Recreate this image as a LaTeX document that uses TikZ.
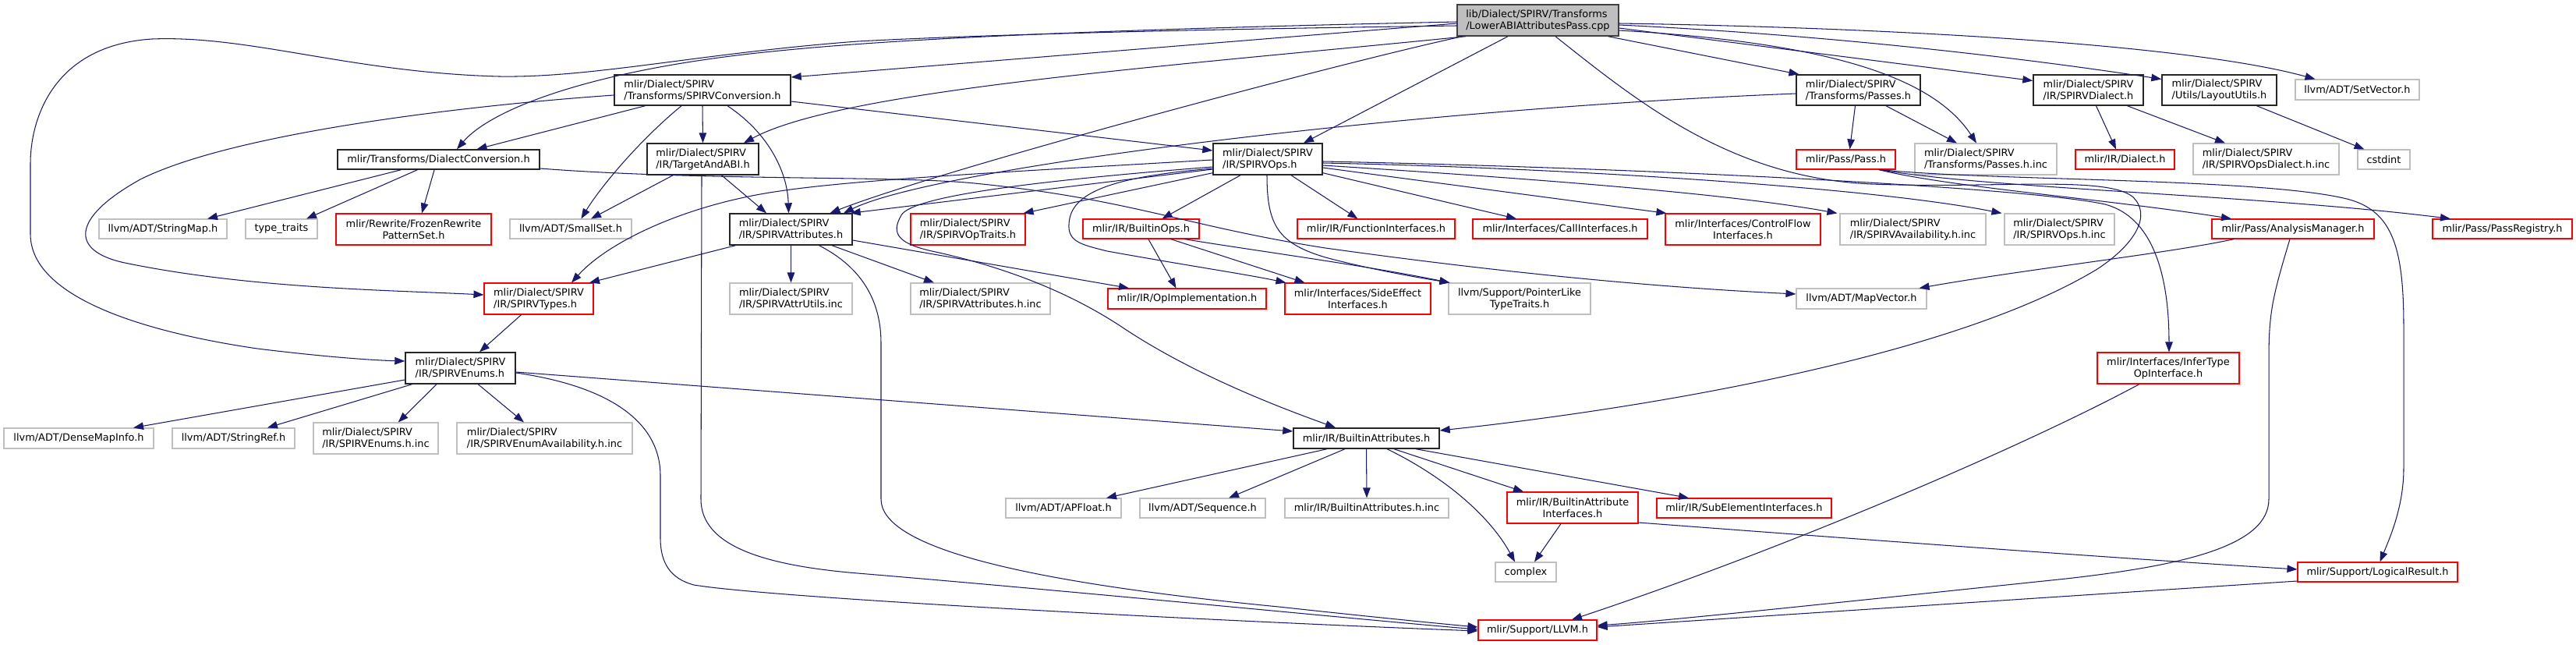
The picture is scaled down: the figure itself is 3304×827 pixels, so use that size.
\documentclass[tikz,border=0pt]{standalone}
\usepackage{fontspec}
\setmainfont{DejaVu Sans}
\usetikzlibrary{arrows.meta}
\definecolor{edgec}{HTML}{191970}
\definecolor{greyb}{HTML}{BFBFBF}
\definecolor{redb}{HTML}{FF0000}
\tikzset{
 nb/.style={rectangle,inner sep=0pt,font=\fontsize{12.9}{15}\selectfont,text=black},
 blk/.style={nb,draw=black!85,line width=1.4pt},
 rootn/.style={nb,draw=black!75,fill=greyb,line width=1.4pt},
 redn/.style={nb,draw=redb,line width=1.1pt},
 gryn/.style={nb,draw=greyb,line width=1.1pt},
 e/.style={draw=edgec,line width=1.05pt,-{Triangle[length=13pt,width=9.5pt]}},
}
\newcommand{\nd}[7]{\node[#1,minimum width={(#5)-(#3)},minimum height={(#6)-(#4)}] (#2) at ({((#3)+(#5))/2},{((#4)+(#6))/2}) {#7};}
\begin{document}
\begin{tikzpicture}[x=1pt,y=-1pt]
\fill[white] (0,0) rectangle (3304,827);
\useasboundingbox (0,0) rectangle (3304,827);
% nodes
\nd{rootn,align=left}{root}{1869}{6}{2076}{46}{lib/Dialect/SPIRV/Transforms\\/LowerABIAttributesPass.cpp}
\nd{blk,align=left}{conv}{788}{96}{1014}{135}{mlir/Dialect/SPIRV\\/Transforms/SPIRVConversion.h}
\nd{blk,align=left}{passes}{2304}{96}{2463}{135}{mlir/Dialect/SPIRV\\/Transforms/Passes.h}
\nd{blk,align=left}{dial}{2608}{96}{2749}{135}{mlir/Dialect/SPIRV\\/IR/SPIRVDialect.h}
\nd{blk,align=left}{layout}{2773}{96}{2920}{135}{mlir/Dialect/SPIRV\\/Utils/LayoutUtils.h}
\nd{gryn}{setvec}{2944}{102}{3103}{128}{llvm/ADT/SetVector.h}
\nd{blk}{dc}{433}{192}{692}{217}{mlir/Transforms/DialectConversion.h}
\nd{blk,align=left}{tabi}{830}{184}{973}{224}{mlir/Dialect/SPIRV\\/IR/TargetAndABI.h}
\nd{blk,align=left}{ops}{1556}{184}{1696}{224}{mlir/Dialect/SPIRV\\/IR/SPIRVOps.h}
\nd{redn}{pass}{2304}{192}{2431}{217}{mlir/Pass/Pass.h}
\nd{gryn,align=left}{passinc}{2456}{184}{2638}{224}{mlir/Dialect/SPIRV\\/Transforms/Passes.h.inc}
\nd{redn}{irdial}{2662}{192}{2789}{217}{mlir/IR/Dialect.h}
\nd{gryn,align=left}{opsdialinc}{2813}{184}{3000}{224}{mlir/Dialect/SPIRV\\/IR/SPIRVOpsDialect.h.inc}
\nd{gryn}{cstdint}{3024}{192}{3091}{217}{cstdint}
\nd{gryn}{strmap}{127}{281}{291}{306}{llvm/ADT/StringMap.h}
\nd{gryn}{typetr}{315}{281}{407}{306}{type\_traits}
\nd{redn,align=center}{frozen}{431}{274}{630}{314}{mlir/Rewrite/FrozenRewrite\\PatternSet.h}
\nd{gryn}{smallset}{654}{281}{810}{306}{llvm/ADT/SmallSet.h}
\nd{blk,align=left}{attrs}{936}{274}{1093}{314}{mlir/Dialect/SPIRV\\/IR/SPIRVAttributes.h}
\nd{redn,align=left}{optraits}{1168}{274}{1315}{314}{mlir/Dialect/SPIRV\\/IR/SPIRVOpTraits.h}
\nd{redn}{bops}{1389}{281}{1538}{306}{mlir/IR/BuiltinOps.h}
\nd{redn}{funcif}{1664}{281}{1866}{306}{mlir/IR/FunctionInterfaces.h}
\nd{redn}{callif}{1889}{281}{2113}{306}{mlir/Interfaces/CallInterfaces.h}
\nd{redn,align=center}{cfif}{2136}{274}{2335}{314}{mlir/Interfaces/ControlFlow\\Interfaces.h}
\nd{gryn,align=left}{avail}{2360}{274}{2547}{314}{mlir/Dialect/SPIRV\\/IR/SPIRVAvailability.h.inc}
\nd{gryn,align=left}{opsinc}{2571}{274}{2712}{314}{mlir/Dialect/SPIRV\\/IR/SPIRVOps.h.inc}
\nd{redn}{am}{2837}{281}{3045}{306}{mlir/Pass/AnalysisManager.h}
\nd{redn}{preg}{3120}{281}{3299}{306}{mlir/Pass/PassRegistry.h}
\nd{redn,align=left}{types}{621}{363}{761}{403}{mlir/Dialect/SPIRV\\/IR/SPIRVTypes.h}
\nd{gryn,align=left}{attrutils}{936}{363}{1093}{403}{mlir/Dialect/SPIRV\\/IR/SPIRVAttrUtils.inc}
\nd{gryn,align=left}{attrsinc}{1168}{363}{1347}{403}{mlir/Dialect/SPIRV\\/IR/SPIRVAttributes.h.inc}
\nd{redn}{opimpl}{1421}{370}{1624}{396}{mlir/IR/OpImplementation.h}
\nd{redn,align=center}{sideeff}{1648}{363}{1835}{403}{mlir/Interfaces/SideEffect\\Interfaces.h}
\nd{gryn,align=center}{ptrlike}{1858}{363}{2040}{403}{llvm/Support/PointerLike\\TypeTraits.h}
\nd{gryn}{mapvec}{2304}{370}{2471}{396}{llvm/ADT/MapVector.h}
\nd{blk,align=left}{enums}{520}{452}{661}{492}{mlir/Dialect/SPIRV\\/IR/SPIRVEnums.h}
\nd{redn,align=center}{infer}{2690}{452}{2872}{492}{mlir/Interfaces/InferType\\OpInterface.h}
\nd{gryn}{dmi}{5}{549}{197}{575}{llvm/ADT/DenseMapInfo.h}
\nd{gryn}{strref}{221}{549}{378}{575}{llvm/ADT/StringRef.h}
\nd{gryn,align=left}{enumsinc}{402}{542}{562}{582}{mlir/Dialect/SPIRV\\/IR/SPIRVEnums.h.inc}
\nd{gryn,align=left}{enumavail}{586}{542}{811}{582}{mlir/Dialect/SPIRV\\/IR/SPIRVEnumAvailability.h.inc}
\nd{blk}{battrs}{1659}{549}{1846}{575}{mlir/IR/BuiltinAttributes.h}
\nd{gryn}{apfloat}{1290}{639}{1438}{664}{llvm/ADT/APFloat.h}
\nd{gryn}{seq}{1462}{639}{1623}{664}{llvm/ADT/Sequence.h}
\nd{gryn}{battrsinc}{1648}{639}{1858}{664}{mlir/IR/BuiltinAttributes.h.inc}
\nd{redn,align=center}{baif}{1933}{631}{2101}{671}{mlir/IR/BuiltinAttribute\\Interfaces.h}
\nd{redn}{subel}{2125}{639}{2349}{664}{mlir/IR/SubElementInterfaces.h}
\nd{gryn}{complex}{1918}{721}{1996}{746}{complex}
\nd{redn}{logres}{2947}{721}{3152}{746}{mlir/Support/LogicalResult.h}
\nd{redn}{llvm}{1896}{795}{2048}{821}{mlir/Support/LLVM.h}
% root edges
\draw[e] ([yshift=-4pt]root.west) -- ([yshift=16.5pt]conv.east);
\draw[e] ([yshift=-2pt]root.west) .. controls (1400,38) and (1150,50) .. (1000,65) .. controls (760,88) and (630,140) .. ([xshift=23.5pt]dc.north);
\draw[e] ([yshift=-7pt]root.west) .. controls (1500,38) and (1250,45) .. (1100,53) .. controls (900,68) and (760,100) .. (640,98) .. controls (450,93) and (320,45) .. (195,50) .. controls (70,58) and (39,150) .. (39,210) -- (39,300) .. controls (39,380) and (180,425) .. (330,447) .. controls (420,458) and (480,462) .. ([yshift=9pt]enums.west);
\draw[e] ([xshift=-92.5pt]root.south) .. controls (1500,85) and (1080,115) .. ([xshift=52.5pt]tabi.north);
\draw[e] ([xshift=-97pt]root.south) .. controls (1700,85) and (1200,220) .. ([xshift=50pt]attrs.north);
\draw[e] ([xshift=-38.5pt]root.south) -- ([xshift=46pt]ops.north);
\draw[e] ([xshift=22.5pt]root.south) .. controls (2100,130) and (2220,228) .. (2400,236) .. controls (2560,242) and (2700,225) .. (2735,252) .. controls (2760,275) and (2740,312) .. (2690,345) .. controls (2500,460) and (2100,525) .. ([yshift=10pt]battrs.east);
\draw[e] ([xshift=90pt]root.south) -- ([xshift=-76pt]passes.north);
\draw[e] ([yshift=-13pt]root.east) .. controls (2350,55) and (2480,100) .. ([xshift=-12pt]passinc.north);
\draw[e] ([yshift=-10pt]root.east) -- ([yshift=12pt]dial.west);
\draw[e] ([yshift=-6pt]root.east) .. controls (2350,45) and (2600,75) .. ([yshift=14pt]layout.west);
\draw[e] ([yshift=-4pt]root.east) .. controls (2400,35) and (2800,55) .. ([xshift=-54pt]setvec.north);
% conversion edges
\draw[e] ([xshift=-73.5pt]conv.south) -- ([xshift=49pt]dc.north);
\draw[e] ([xshift=-27pt]conv.south) .. controls (820,180) and (770,240) .. ([xshift=13.4pt]smallset.north);
\draw[e] (conv.south) -- (tabi.north);
\draw[e] ([xshift=32pt]conv.south) .. controls (985,170) and (1010,220) .. ([xshift=-3pt]attrs.north);
\draw[e] ([yshift=-14.5pt]conv.east) -- ([yshift=11pt]ops.west);
\draw[e] ([yshift=-6.5pt]conv.west) .. controls (600,135) and (300,170) .. (180,230) .. controls (90,280) and (90,322) .. (160,337) .. controls (320,370) and (500,372) .. ([yshift=5pt]types.west);
% dialect conversion
\draw[e] ([xshift=-48pt]dc.south) -- ([xshift=57pt]strmap.north);
\draw[e] ([xshift=-27pt]dc.south) -- ([xshift=32pt]typetr.north);
\draw[e] ([xshift=-5.4pt]dc.south) -- ([xshift=10.5pt]frozen.north);
\draw[e] ([yshift=-11.5pt]dc.east) .. controls (900,232) and (1150,225) .. (1250,235) .. controls (1450,255) and (1520,290) .. (1700,318) .. controls (2000,360) and (2200,372) .. ([yshift=6pt]mapvec.west);
% target and abi
\draw[e] ([xshift=-38.3pt]tabi.south) -- ([xshift=26pt]smallset.north);
\draw[e] ([xshift=24pt]tabi.south) -- ([xshift=-31.5pt]attrs.north);
\draw[e] ([xshift=-1.5pt]tabi.south) -- (899,640) .. controls (899,700) and (980,725) .. (1100,735) .. controls (1400,760) and (1750,795) .. ([yshift=1pt]llvm.west);
% attributes
\draw[e] ([xshift=-71pt]attrs.south) -- ([xshift=65pt]types.north);
\draw[e] (attrs.south) -- (attrutils.north);
\draw[e] ([xshift=52.5pt]attrs.south) -- ([xshift=-59.5pt]attrsinc.north);
\draw[e] ([yshift=-14pt]attrs.east) -- ([xshift=-74.5pt]opimpl.north);
\draw[e] ([xshift=36pt]attrs.south) .. controls (1100,340) and (1130,380) .. (1130,440) -- (1130,640) .. controls (1130,700) and (1300,745) .. (1640,778) .. controls (1750,790) and (1850,800) .. ([yshift=4pt]llvm.west);
% ops
\draw[e] ([yshift=-1pt]ops.west) .. controls (1300,220) and (1100,230) .. (1000,245) .. controls (880,262) and (780,310) .. ([xshift=42pt]types.north);
\draw[e] ([yshift=-13pt]ops.west) -- ([xshift=-3pt]attrs.north east);
\draw[e] ([yshift=-17.7pt]ops.west) -- ([xshift=-3pt]optraits.north east);
\draw[e] ([xshift=-35pt]ops.south) -- ([xshift=27pt]bops.north);
\draw[e] ([xshift=30pt]ops.south) -- ([xshift=-23.6pt]funcif.north);
\draw[e] ([yshift=-17.7pt]ops.east) -- ([xshift=-56pt]callif.north);
\draw[e] ([yshift=-11pt]ops.east) -- ([xshift=2pt]cfif.north west);
\draw[e] ([yshift=-8pt]ops.east) .. controls (1900,225) and (2200,245) .. ([xshift=-3pt]avail.north west);
\draw[e] ([yshift=-5pt]ops.east) .. controls (2000,215) and (2400,240) .. ([xshift=-3pt]opsinc.north west);
\draw[e] ([yshift=-3pt]ops.east) .. controls (2100,215) and (2600,240) .. (2700,262) .. controls (2760,278) and (2782,350) .. ([xshift=1pt]infer.north);
\draw[e] ([xshift=-1pt]ops.south) .. controls (1625,290) and (1640,312) .. (1700,330) .. controls (1760,346) and (1820,356) .. ([xshift=2pt]ptrlike.north west);
\draw[e] ([yshift=-12pt]ops.west) .. controls (1450,225) and (1380,240) .. (1372,280) .. controls (1366,310) and (1385,313) .. (1420,322) .. controls (1520,340) and (1600,352) .. ([xshift=2pt]sideeff.north west);
\draw[e] ([yshift=-10pt]ops.west) .. controls (1350,230) and (1170,250) .. (1156,276) .. controls (1142,300) and (1152,313) .. (1200,323) .. controls (1300,345) and (1380,380) .. (1440,420) .. controls (1530,480) and (1640,522) .. ([xshift=-39.5pt]battrs.north);
% builtin ops
\draw[e] ([xshift=9.4pt]bops.south) -- ([xshift=-14pt]opimpl.north);
\draw[e] ([xshift=38pt]bops.south) -- ([xshift=-68pt]sideeff.north);
\draw[e] ([xshift=55.5pt]bops.south) .. controls (1600,320) and (1750,340) .. ([xshift=2pt]ptrlike.north west);
% passes
\draw[e] ([xshift=-4pt]passes.south) -- ([xshift=5pt]pass.north);
\draw[e] ([xshift=35.5pt]passes.south) -- ([xshift=-37pt]passinc.north);
\draw[e] ([yshift=-4.5pt]passes.west) .. controls (1800,140) and (1200,215) .. ([xshift=67.5pt]attrs.north);
% dialect, layout
\draw[e] ([xshift=10pt]dial.south) -- ([xshift=-11.5pt]irdial.north);
\draw[e] ([xshift=50pt]dial.south) -- ([xshift=-52.5pt]opsdialinc.north);
\draw[e] ([xshift=48pt]layout.south) -- ([xshift=-25pt]cstdint.north);
% pass
\draw[e] ([xshift=42pt]pass.south) .. controls (2500,240) and (2700,255) .. ([xshift=-79pt]am.north);
\draw[e] ([xshift=43pt]pass.south) .. controls (2550,242) and (2900,250) .. ([xshift=-66.5pt]preg.north);
\draw[e] ([xshift=44pt]pass.south) .. controls (2550,232) and (2900,228) .. (3010,255) .. controls (3070,270) and (3083,320) .. (3083,420) -- (3083,600) .. controls (3083,650) and (3065,690) .. ([xshift=3pt]logres.north);
% analysis manager
\draw[e] ([xshift=-75.4pt]am.south) .. controls (2780,325) and (2600,345) .. ([xshift=-10pt]mapvec.north east);
\draw[e] ([xshift=-4pt]am.south) .. controls (2915,380) and (2910,400) .. (2910,460) -- (2910,640) .. controls (2910,700) and (2800,725) .. (2650,742) .. controls (2400,768) and (2150,795) .. ([yshift=6pt]llvm.east);
% infer, logical result, interfaces
\draw[e] ([xshift=-37pt]infer.south) .. controls (2600,570) and (2300,700) .. ([xshift=44pt]llvm.north);
\draw[e] ([yshift=-11.5pt]logres.west) -- ([yshift=4pt]llvm.east);
\draw[e] ([xshift=-15pt]baif.south) -- ([xshift=11pt]complex.north);
\draw[e] ([yshift=-19pt]baif.east) .. controls (2300,685) and (2700,715) .. ([yshift=3.5pt]logres.west);
% types, enums
\draw[e] ([xshift=-22.4pt]types.south) -- ([xshift=24.5pt]enums.north);
\draw[e] ([yshift=-15pt]enums.west) -- ([xshift=70pt]dmi.north);
\draw[e] ([xshift=-62pt]enums.south) -- ([xshift=43.4pt]strref.north);
\draw[e] ([xshift=-30.5pt]enums.south) -- ([xshift=28.7pt]enumsinc.north);
\draw[e] ([xshift=22.7pt]enums.south) -- ([xshift=-26.5pt]enumavail.north);
\draw[e] ([yshift=-5pt]enums.east) -- ([yshift=9pt]battrs.west);
\draw[e] ([yshift=-6pt]enums.east) .. controls (780,495) and (847,540) .. (847,610) -- (847,690) .. controls (847,722) and (860,742) .. (890,750) .. controls (1000,768) and (1600,798) .. ([yshift=-1pt]llvm.west);
% builtin attributes
\draw[e] ([xshift=-50.5pt]battrs.south) -- ([xshift=55pt]apfloat.north);
\draw[e] ([xshift=-27.5pt]battrs.south) -- ([xshift=33.5pt]seq.north);
\draw[e] (battrs.south) -- (battrsinc.north);
\draw[e] ([xshift=26.5pt]battrs.south) .. controls (1850,610) and (1910,660) .. ([xshift=-14pt]complex.north);
\draw[e] ([xshift=35.4pt]battrs.south) -- ([xshift=-63pt]baif.north);
\draw[e] ([xshift=63.5pt]battrs.south) -- ([xshift=-71pt]subel.north);
\end{tikzpicture}
\end{document}
